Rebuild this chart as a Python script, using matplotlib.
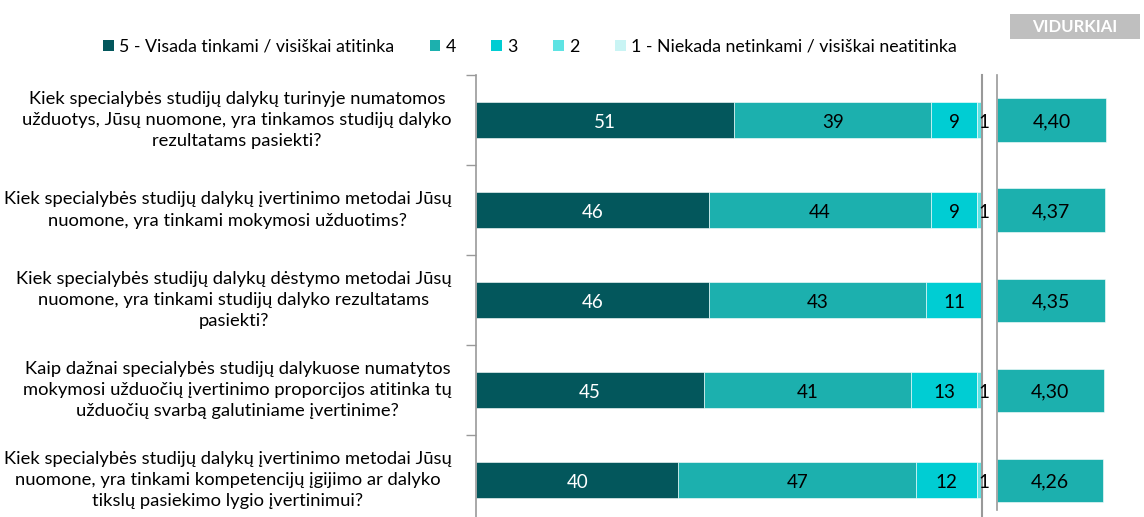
import numpy as np
import matplotlib.pyplot as plt
from matplotlib.patches import Patch, Rectangle

plt.rcParams['font.family'] = ['Lato', 'DejaVu Sans']

# Data
questions = [
    'Kiek specialybės studijų dalykų turinyje numatomos\nužduotys, Jūsų nuomone, yra tinkamos studijų dalyko\nrezultatams pasiekti?',
    'Kiek specialybės studijų dalykų įvertinimo metodai Jūsų\nnuomone, yra tinkami mokymosi užduotims?',
    'Kiek specialybės studijų dalykų dėstymo metodai Jūsų\nnuomone, yra tinkami studijų dalyko rezultatams\npasiekti?',
    'Kaip dažnai specialybės studijų dalykuose numatytos\nmokymosi užduočių įvertinimo proporcijos atitinka tų\nužduočių svarbą galutiniame įvertinime?',
    'Kiek specialybės studijų dalykų įvertinimo metodai Jūsų\nnuomone, yra tinkami kompetencijų įgijimo ar dalyko\ntikslų pasiekimo lygio įvertinimui?',
]
series_names = ['5 - Visada tinkami / visiškai atitinka', '4', '3', '2',
                '1 - Niekada netinkami / visiškai neatitinka']
s5 = [51, 46, 46, 45, 40]
s4 = [39, 44, 43, 41, 47]
s3 = [9, 9, 11, 13, 12]
s2 = [1, 1, 0, 1, 1]
s1 = [0, 0, 0, 0, 0]
averages = [4.40, 4.37, 4.35, 4.30, 4.26]

colors = ['#03575C', '#1CB0AE', '#00CDD3', '#5EE3E3', '#C9F4F4']
text_colors = ['white', 'black', 'black', 'black', 'black']

W, H = 1144, 517
fig = plt.figure(figsize=(W / 100, H / 100), dpi=100)

# left stacked axis
ax = fig.add_axes([476 / W, 1 - 517 / H, (982 - 476) / W, (517 - 75) / H])
y = np.arange(len(questions))
left = np.zeros(len(questions))
for vals, col, tc in zip([s5, s4, s3, s2, s1], colors, text_colors):
    vals = np.array(vals, dtype=float)
    ax.barh(y, vals, left=left, height=0.4, color=col, edgecolor='white', linewidth=0.4)
    for yi, (l, v) in enumerate(zip(left, vals)):
        if v >= 3:
            ax.text(l + v / 2, yi + 0.03, f'{int(v)}', ha='center', va='center',
                    fontsize=13.5, color=tc)
        elif v > 0:
            ax.text(l + v + 0.3, yi + 0.03, f'{int(v)}', ha='center', va='center',
                    fontsize=13.5, color='black')
    left += vals
ax.set_xlim(0, 100)
ax.set_ylim(4.41, -0.5)
ax.set_xticks([])
ax.set_yticks(np.arange(-0.5, 4.5, 1))
ax.set_yticklabels([])
ax.tick_params(axis='y', length=7, color='#999999', width=1)
for side in ['top', 'bottom']:
    ax.spines[side].set_visible(False)
ax.spines['left'].set_color('#999999')
ax.spines['right'].set_color('#999999')
ax.spines['left'].set_linewidth(1.2)
ax.spines['right'].set_linewidth(1.5)

for yi, q in enumerate(questions):
    ax.text(-0.048, yi, q, transform=ax.get_yaxis_transform(), ha='right', va='center',
            multialignment='center', fontsize=13.2, color='black', linespacing=1.4)

# right averages axis
ax2 = fig.add_axes([997 / W, 1 - 510 / H, 124 / W, (510 - 75) / H])
ax2.barh(y, averages, height=0.48, color='#1CB0AE', edgecolor='white', linewidth=0.4)
for yi, a in enumerate(averages):
    ax2.text(a / 2, yi + 0.02, f'{a:.2f}'.replace('.', ','), ha='center', va='center',
             fontsize=14, color='black')
ax2.set_xlim(0, 5)
ax2.set_ylim(4.33, -0.5)
ax2.set_xticks([])
ax2.set_yticks([])
for side in ['top', 'bottom', 'right']:
    ax2.spines[side].set_visible(False)
ax2.spines['left'].set_color('#999999')
ax2.spines['left'].set_linewidth(1.2)

# legend
handles = [Patch(facecolor=c, edgecolor='none') for c in colors]
fig.legend(handles, series_names, loc='center', bbox_to_anchor=(530 / W, 1 - 47 / H),
           ncol=5, frameon=False, fontsize=12.8, handlelength=0.6, handleheight=0.6,
           handletextpad=0.3, columnspacing=2.0)

# VIDURKIAI box
fig.add_artist(Rectangle((1010 / W, 1 - 39 / H), 130 / W, 25 / H, transform=fig.transFigure,
                         facecolor='#BFBFBF', edgecolor='none'))
fig.text(1075 / W, 1 - 27 / H, 'VIDURKIAI', ha='center', va='center', fontsize=12,
         fontweight='bold', color='white')

fig.savefig('out.png', dpi=100)
